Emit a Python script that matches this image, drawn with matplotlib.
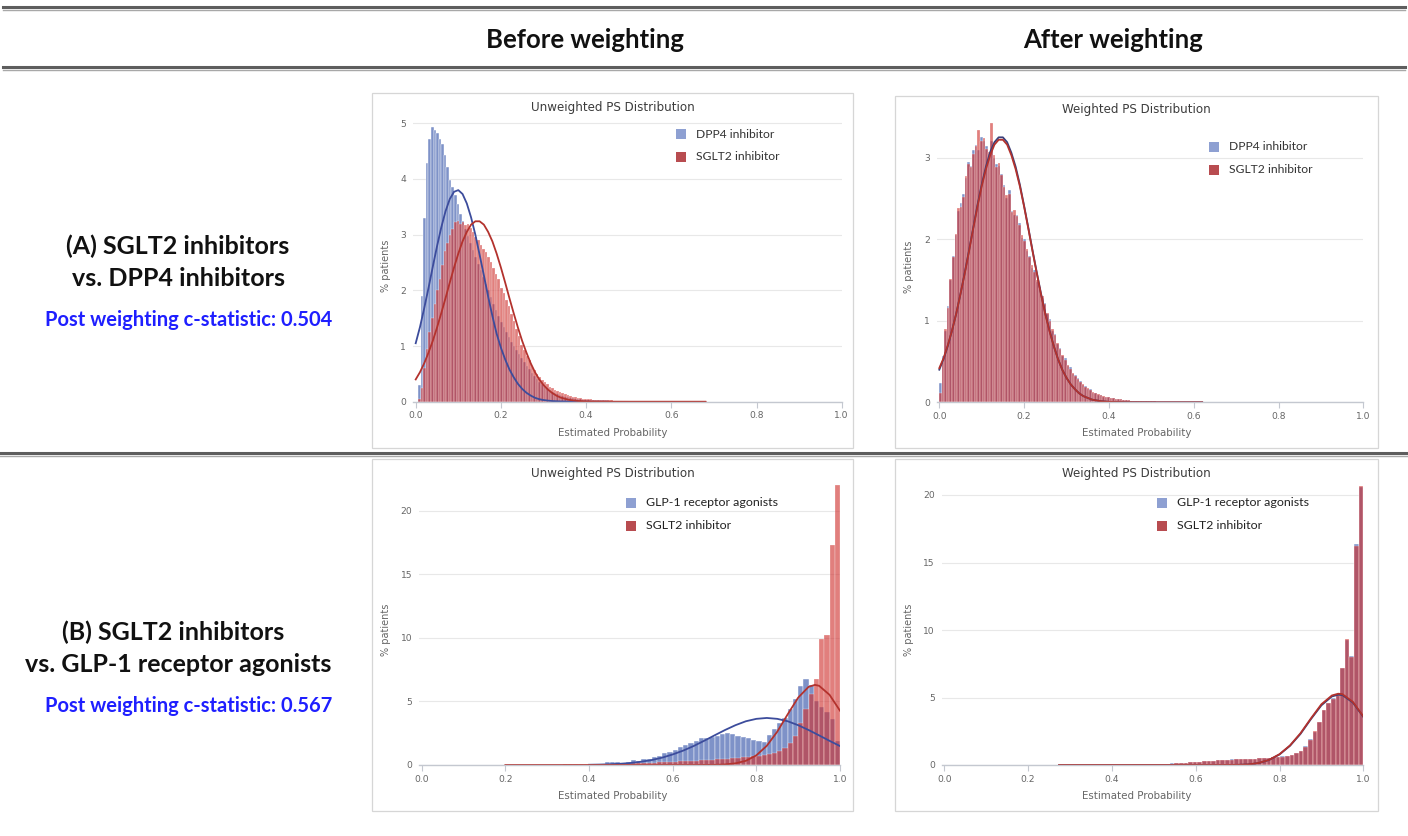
import numpy as np
import matplotlib
matplotlib.use('Agg')
import matplotlib.pyplot as plt
from matplotlib.patches import Rectangle
from matplotlib.lines import Line2D

# ---------------- data ----------------
# (A) SGLT2 vs DPP4, histogram bins of width 0.006 starting at 0.0
a_bin_width = 0.006
dpp4_before = [0.0, 0.3, 1.9, 3.3, 4.28, 4.72, 4.93, 4.88, 4.82, 4.72,
               4.62, 4.43, 4.22, 3.98, 3.86, 3.72, 3.55, 3.38, 3.25, 3.1,
               2.98, 2.85, 2.72, 2.6, 2.48, 2.36, 2.24, 2.12, 2.0, 1.88,
               1.76, 1.65, 1.54, 1.44, 1.35, 1.26, 1.17, 1.08, 1.0, 0.92,
               0.85, 0.78, 0.71, 0.64, 0.58, 0.52, 0.46, 0.41, 0.36, 0.32,
               0.28, 0.24, 0.21, 0.18, 0.16, 0.14, 0.12, 0.1, 0.09, 0.08,
               0.07, 0.06, 0.05, 0.045, 0.04, 0.035, 0.03, 0.025, 0.02, 0.02,
               0.015, 0.015, 0.01, 0.01, 0.01, 0.008]
sglt2_a_before = [0.0, 0.05, 0.25, 0.6, 0.95, 1.25, 1.5, 1.75, 2.0, 2.2,
                  2.45, 2.7, 2.85, 3.0, 3.1, 3.22, 3.25, 3.2, 3.22, 3.18,
                  3.2, 3.12, 3.05, 2.95, 2.9, 2.82, 2.75, 2.68, 2.6, 2.5,
                  2.4, 2.3, 2.2, 2.05, 1.95, 1.82, 1.72, 1.58, 1.45, 1.3,
                  1.18, 1.02, 0.92, 0.82, 0.74, 0.65, 0.57, 0.5, 0.44, 0.39,
                  0.35, 0.31, 0.27, 0.24, 0.21, 0.19, 0.17, 0.15, 0.13, 0.12,
                  0.1, 0.09, 0.08, 0.07, 0.06, 0.055, 0.05, 0.045, 0.04, 0.035,
                  0.03, 0.03, 0.028, 0.026, 0.025, 0.024, 0.022, 0.02, 0.02, 0.019,
                  0.018, 0.017, 0.016, 0.015, 0.015, 0.014, 0.013, 0.013, 0.012, 0.012,
                  0.011, 0.011, 0.01, 0.01, 0.01, 0.01, 0.009, 0.009, 0.009, 0.008,
                  0.008, 0.008, 0.008, 0.007, 0.007, 0.007, 0.007, 0.006, 0.006, 0.006,
                  0.006, 0.006, 0.005, 0.005]
dpp4_after = [0.24, 0.57, 0.88, 1.18, 1.5, 1.8, 2.05, 2.35, 2.45, 2.55,
              2.75, 2.95, 2.9, 3.1, 3.16, 3.1, 3.26, 3.2, 3.14, 3.05,
              3.2, 3.0, 2.92, 2.9, 2.8, 2.66, 2.5, 2.6, 2.35, 2.3,
              2.3, 2.2, 2.02, 2.0, 1.85, 1.8, 1.65, 1.62, 1.48, 1.42,
              1.28, 1.22, 1.08, 1.02, 0.88, 0.84, 0.72, 0.67, 0.57, 0.54,
              0.45, 0.43, 0.35, 0.34, 0.3, 0.26, 0.21, 0.2, 0.16, 0.16,
              0.12, 0.12, 0.09, 0.09, 0.07, 0.07, 0.06, 0.05, 0.05, 0.04,
              0.04, 0.035, 0.03, 0.028, 0.025, 0.022, 0.02, 0.018, 0.016, 0.015,
              0.014, 0.012, 0.011, 0.01, 0.01, 0.009, 0.008, 0.008, 0.007, 0.007,
              0.006, 0.006, 0.006, 0.005, 0.005, 0.005, 0.005, 0.004, 0.004, 0.004,
              0.004, 0.004, 0.004]
sglt2_a_after = [0.12, 0.49, 0.9, 1.16, 1.51, 1.78, 2.07, 2.38, 2.4, 2.52,
                 2.78, 2.92, 2.88, 3.05, 3.14, 3.34, 3.2, 3.24, 3.11, 3.07,
                 3.42, 3.03, 2.89, 2.93, 2.79, 2.64, 2.54, 2.56, 2.33, 2.36,
                 2.29, 2.17, 2.05, 1.98, 1.88, 1.78, 1.68, 1.6, 1.5, 1.4,
                 1.3, 1.2, 1.1, 1.0, 0.9, 0.82, 0.73, 0.65, 0.58, 0.52,
                 0.46, 0.41, 0.36, 0.32, 0.28, 0.25, 0.22, 0.19, 0.17, 0.15,
                 0.13, 0.11, 0.1, 0.09, 0.08, 0.07, 0.06, 0.055, 0.05, 0.045,
                 0.04, 0.035, 0.03, 0.028, 0.025, 0.022, 0.02, 0.018, 0.016, 0.015,
                 0.014, 0.012, 0.011, 0.01, 0.01, 0.009, 0.008, 0.008, 0.007, 0.007,
                 0.006, 0.006, 0.006, 0.005, 0.005, 0.005, 0.005, 0.004, 0.004, 0.004,
                 0.004, 0.004, 0.004]

# fitted normal curves, panel A
fit_a_x_before = [0.0, 0.01, 0.02, 0.03, 0.04, 0.05, 0.06, 0.07, 0.08, 0.09,
                  0.1, 0.11, 0.12, 0.13, 0.14, 0.15, 0.16, 0.17, 0.18, 0.19,
                  0.2, 0.21, 0.22, 0.23, 0.24, 0.25, 0.26, 0.27, 0.28, 0.29,
                  0.3, 0.31, 0.32, 0.33, 0.34, 0.36, 0.38, 0.4, 0.45, 0.5, 0.6, 0.68]
fit_a_x_after = [0.0, 0.01, 0.02, 0.03, 0.04, 0.05, 0.06, 0.07, 0.08, 0.09,
                 0.1, 0.11, 0.12, 0.13, 0.14, 0.15, 0.16, 0.17, 0.18, 0.19,
                 0.2, 0.21, 0.22, 0.23, 0.24, 0.25, 0.26, 0.27, 0.28, 0.29,
                 0.3, 0.31, 0.32, 0.33, 0.34, 0.36, 0.38, 0.4, 0.45, 0.5, 0.6, 0.62]
dpp4_before_fit = [1.05, 1.34, 1.68, 2.04, 2.42, 2.79, 3.13, 3.42, 3.64, 3.77,
                   3.8, 3.73, 3.56, 3.31, 3.0, 2.64, 2.27, 1.89, 1.54, 1.22,
                   0.97, 0.76, 0.58, 0.44, 0.32, 0.23, 0.16, 0.11, 0.07, 0.045,
                   0.03, 0.02, 0.012, 0.008, 0.005, 0.002, 0.001, 0.0, 0.0]
sglt2_a_before_fit = [0.4, 0.53, 0.69, 0.88, 1.09, 1.33, 1.59, 1.86, 2.14, 2.41,
                      2.66, 2.88, 3.05, 3.18, 3.24, 3.24, 3.18, 3.05, 2.88, 2.66,
                      2.41, 2.14, 1.86, 1.59, 1.33, 1.09, 0.88, 0.69, 0.53, 0.4,
                      0.3, 0.22, 0.16, 0.11, 0.075, 0.033, 0.014, 0.005, 0.001, 0.0, 0.0, 0.0]
dpp4_after_fit = [0.4, 0.53, 0.69, 0.88, 1.09, 1.33, 1.59, 1.86, 2.14, 2.42,
                  2.67, 2.89, 3.07, 3.19, 3.25, 3.25, 3.19, 3.06, 2.89, 2.67,
                  2.41, 2.14, 1.86, 1.59, 1.33, 1.09, 0.88, 0.69, 0.53, 0.4,
                  0.3, 0.22, 0.16, 0.11, 0.075, 0.033, 0.014, 0.005, 0.001, 0.0, 0.0, 0.0]
sglt2_a_after_fit = [0.42, 0.54, 0.7, 0.88, 1.09, 1.33, 1.58, 1.85, 2.13, 2.4,
                     2.65, 2.86, 3.03, 3.16, 3.22, 3.22, 3.16, 3.03, 2.86, 2.65,
                     2.4, 2.13, 1.85, 1.58, 1.32, 1.08, 0.87, 0.69, 0.53, 0.4,
                     0.3, 0.22, 0.16, 0.11, 0.075, 0.033, 0.014, 0.005, 0.001, 0.0, 0.0, 0.0]

# (B) SGLT2 vs GLP-1 RA
b_bin_width = 0.0125
glp1_before_start = 0.4
glp1_before = [0.04, 0.06, 0.1, 0.2, 0.25, 0.22, 0.15, 0.2, 0.4, 0.35,
               0.45, 0.5, 0.6, 0.7, 0.95, 1.05, 1.2, 1.4, 1.55, 1.75,
               1.9, 2.1, 2.15, 2.2, 2.3, 2.4, 2.5, 2.45, 2.25, 2.2,
               2.1, 2.0, 1.9, 1.8, 2.35, 2.85, 3.3, 3.7, 4.4, 5.2,
               6.2, 6.8, 6.3, 5.0, 4.6, 4.2, 3.6, 1.9]
sglt2_b_before_start = 0.2
sglt2_b_before = [0.02, 0.02, 0.02, 0.02, 0.02, 0.02, 0.03, 0.03, 0.03, 0.03,
                  0.03, 0.04, 0.04, 0.04, 0.05, 0.05, 0.06, 0.06, 0.07, 0.08,
                  0.09, 0.1, 0.11, 0.12, 0.13, 0.14, 0.15, 0.17, 0.19, 0.21,
                  0.23, 0.25, 0.27, 0.29, 0.31, 0.33, 0.35, 0.37, 0.39, 0.41,
                  0.44, 0.47, 0.5, 0.53, 0.56, 0.6, 0.64, 0.68, 0.72, 0.78,
                  0.85, 0.95, 1.1, 1.35, 1.7, 2.3, 3.3, 4.4, 5.6, 6.8,
                  9.9, 10.2, 17.3, 22.0]
b_after_bin_width = 0.011
b_after_start = 0.274
glp1_after = [0.01, 0.01, 0.01, 0.01, 0.01, 0.01, 0.012, 0.015, 0.015, 0.02,
              0.02, 0.022, 0.025, 0.03, 0.032, 0.035, 0.04, 0.045, 0.05, 0.06,
              0.07, 0.08, 0.09, 0.1, 0.12, 0.13, 0.15, 0.17, 0.2, 0.22,
              0.25, 0.27, 0.3, 0.33, 0.34, 0.36, 0.38, 0.41, 0.42, 0.44,
              0.45, 0.47, 0.48, 0.5, 0.53, 0.55, 0.58, 0.6, 0.63, 0.68,
              0.75, 0.88, 1.02, 1.4, 1.9, 2.45, 3.15, 4.1, 4.62, 4.95,
              5.1, 7.15, 9.25, 8.05, 16.35, 20.6]
sglt2_b_after = [0.01, 0.01, 0.01, 0.01, 0.01, 0.01, 0.01, 0.015, 0.015, 0.02,
                 0.02, 0.02, 0.025, 0.03, 0.03, 0.035, 0.04, 0.045, 0.05, 0.06,
                 0.07, 0.08, 0.09, 0.1, 0.11, 0.13, 0.15, 0.18, 0.2, 0.22,
                 0.25, 0.28, 0.3, 0.32, 0.34, 0.36, 0.38, 0.4, 0.42, 0.43,
                 0.45, 0.46, 0.48, 0.5, 0.52, 0.55, 0.57, 0.6, 0.62, 0.67,
                 0.74, 0.86, 1.04, 1.36, 1.85, 2.5, 3.2, 4.07, 4.6, 4.9,
                 5.2, 7.2, 9.3, 8.0, 16.2, 20.7]

# fitted normal curves, panel B
glp1_fit_x = [0.4, 0.425, 0.45, 0.475, 0.5, 0.525, 0.55, 0.575, 0.6, 0.625, 0.65,
              0.675, 0.7, 0.725, 0.75, 0.775, 0.8, 0.825, 0.85, 0.875, 0.9,
              0.925, 0.95, 0.975, 1.0]
glp1_before_fit = [0.018, 0.033, 0.058, 0.099, 0.16, 0.26, 0.39, 0.58, 0.83, 1.13, 1.49,
                   1.9, 2.33, 2.75, 3.13, 3.44, 3.63, 3.7, 3.63, 3.44, 3.13,
                   2.75, 2.33, 1.9, 1.49]
sglt2_b_fit_x = [0.2, 0.3, 0.4, 0.5, 0.6, 0.65, 0.7, 0.725, 0.75, 0.775, 0.8,
                 0.825, 0.85, 0.875, 0.9, 0.925, 0.94, 0.95, 0.975, 1.0]
sglt2_b_before_fit = [0.0, 0.0, 0.0, 0.0, 0.0, 0.0, 0.012, 0.043, 0.13, 0.33, 0.76,
                      1.51, 2.62, 3.99, 5.3, 6.15, 6.3, 6.23, 5.52, 4.27]
b_after_fit_x = [0.274, 0.4, 0.5, 0.6, 0.65, 0.7, 0.725, 0.75, 0.775, 0.8,
                 0.825, 0.85, 0.875, 0.9, 0.925, 0.94, 0.95, 0.975, 1.0]
glp1_after_fit = [0.0, 0.0, 0.0, 0.0, 0.0, 0.011, 0.04, 0.14, 0.37, 0.78,
                  1.42, 2.3, 3.4, 4.42, 5.08, 5.2, 5.18, 4.63, 3.57]
sglt2_b_after_fit = [0.0, 0.0, 0.0, 0.0, 0.0, 0.011, 0.04, 0.15, 0.38, 0.8,
                     1.45, 2.35, 3.45, 4.5, 5.15, 5.28, 5.25, 4.68, 3.6]

# ---------------- figure ----------------
W, H = 1408, 836
BLUE_BAR = '#7e92c8'
RED_BAR = '#cf302e'
BLUE_LINE = '#3c4c9c'
RED_LINE = '#b3322d'
GRAY_TXT = '#666666'

plt.rcParams['font.family'] = ['DejaVu Sans']
fig = plt.figure(figsize=(W / 100, H / 100), dpi=100)


def fx(x):
    return x / W


def fy(y):
    return 1 - y / H


def hline(y, x0=3, x1=1405):
    fig.add_artist(Line2D([fx(x0), fx(x1)], [fy(y), fy(y)], color='#5e5e5e', lw=2.2))
    fig.add_artist(Line2D([fx(x0), fx(x1)], [fy(y + 2.5), fy(y + 2.5)], color='#a8a8a8', lw=1.0))


def make_panel(frame, x0, x1, y0, yunit, ytop, yticks, title):
    # light frame around the chart image
    l, t, r, b = frame
    fig.add_artist(Rectangle((fx(l), fy(b)), (r - l) / W, (b - t) / H,
                             transform=fig.transFigure, fill=False,
                             edgecolor='#d6d6d6', lw=0.9))
    xmin = -0.006
    left = x0 + xmin * (x1 - x0)
    top = y0 - ytop * yunit
    ax = fig.add_axes([fx(left), fy(y0), (x1 - left) / W, (y0 - top) / H])
    ax.set_xlim(xmin, 1.0)
    ax.set_ylim(0, ytop)
    for s in ['top', 'right', 'left']:
        ax.spines[s].set_visible(False)
    ax.spines['bottom'].set_color('#c4c8d0')
    ax.spines['bottom'].set_linewidth(1.0)
    ax.set_xticks([0, 0.2, 0.4, 0.6, 0.8, 1.0])
    ax.set_xticklabels(['0.0', '0.2', '0.4', '0.6', '0.8', '1.0'])
    ax.set_yticks(yticks)
    ax.set_yticklabels([str(v) for v in yticks])
    ax.tick_params(axis='x', length=4, color='#c4c8d0', labelsize=6.6,
                   labelcolor=GRAY_TXT, pad=3)
    ax.tick_params(axis='y', length=0, labelsize=6.6, labelcolor=GRAY_TXT, pad=5)
    ax.yaxis.grid(True, color='#e8e8e8', lw=0.8)
    ax.set_axisbelow(True)
    ax.patch.set_alpha(0)
    cx = (l + r) / 2
    fig.text(fx(cx), fy(t + 14), title, ha='center', va='center',
             fontsize=8.6, color='#3c3c3c')
    fig.text(fx(cx), fy(b - 15), 'Estimated Probability', ha='center', va='center',
             fontsize=7.4, color=GRAY_TXT)
    fig.text(fx(l + 14), fy((t + b) / 2 - 5), '% patients', ha='center', va='center',
             rotation=90, fontsize=7.0, color=GRAY_TXT)
    return ax


def bars(ax, start, width, heights, color, alpha):
    lefts = start + width * np.arange(len(heights))
    ax.bar(lefts, heights, width=width, align='edge', color=color, alpha=alpha,
           edgecolor=(1, 1, 1, 0.3), linewidth=0.3)


def legend(x, y, labels, size, color):
    for i, (lab, c) in enumerate(zip(labels, ['#8ea0d2', '#b84c50'])):
        yy = y + i * 22.5
        fig.add_artist(Rectangle((fx(x - 5), fy(yy + 5)), 10 / W, 10 / H,
                                 transform=fig.transFigure, color=c, lw=0))
        fig.text(fx(x + 15), fy(yy), lab, ha='left', va='center',
                 fontsize=size, color=color, family='Lato')


# header rules and column titles
hline(7)
hline(67)
hline(453, 0, 1408)
fig.text(fx(585), fy(40), 'Before weighting', ha='center', va='center',
         fontsize=18.5, fontweight='bold', family='Lato', color='#111111')
fig.text(fx(1113), fy(40), 'After weighting', ha='center', va='center',
         fontsize=18.5, fontweight='bold', family='Lato', color='#111111')

# row labels
label_kw = dict(ha='center', va='center', fontsize=18, fontweight='bold',
                family='Lato', color='#111111')
stat_kw = dict(ha='center', va='center', fontsize=14.5, fontweight='bold',
               family='Lato', color='#1f1fff')
fig.text(fx(178), fy(246), '(A) SGLT2 inhibitors', **label_kw)
fig.text(fx(179), fy(278), 'vs. DPP4 inhibitors', **label_kw)
fig.text(fx(189), fy(320), 'Post weighting c-statistic: 0.504', **stat_kw)
fig.text(fx(173), fy(632), '(B) SGLT2 inhibitors', **label_kw)
fig.text(fx(178), fy(664), 'vs. GLP-1 receptor agonists', **label_kw)
fig.text(fx(189), fy(706), 'Post weighting c-statistic: 0.567', **stat_kw)

# panel A, before weighting
ax = make_panel((372, 93, 853, 448), 415.7, 841.7, 401.7, 55.68, 5.05,
                [0, 1, 2, 3, 4, 5], 'Unweighted PS Distribution')
bars(ax, 0.0, a_bin_width, dpp4_before, BLUE_BAR, 1.0)
bars(ax, 0.0, a_bin_width, sglt2_a_before, RED_BAR, 0.62)
ax.plot(fit_a_x_before[:len(dpp4_before_fit)], dpp4_before_fit, color=BLUE_LINE, lw=1.3)
ax.plot(fit_a_x_before, sglt2_a_before_fit, color=RED_LINE, lw=1.3)
legend(681, 134, ['DPP4 inhibitor', 'SGLT2 inhibitor'], 8.7, '#333333')

# panel A, after weighting
ax = make_panel((895, 96, 1378, 448), 939.3, 1363.3, 402.3, 81.53, 3.45,
                [0, 1, 2, 3], 'Weighted PS Distribution')
bars(ax, 0.0, a_bin_width, dpp4_after, BLUE_BAR, 1.0)
bars(ax, 0.0, a_bin_width, sglt2_a_after, RED_BAR, 0.62)
ax.plot(fit_a_x_after, dpp4_after_fit, color='#3a3f7a', lw=1.3)
ax.plot(fit_a_x_after, sglt2_a_after_fit, color=RED_LINE, lw=1.3)
legend(1214, 147, ['DPP4 inhibitor', 'SGLT2 inhibitor'], 8.7, '#333333')

# panel B, before weighting
ax = make_panel((372, 459, 853, 811), 421.7, 840.0, 765.0, 12.715, 22.2,
                [0, 5, 10, 15, 20], 'Unweighted PS Distribution')
bars(ax, glp1_before_start, b_bin_width, glp1_before, BLUE_BAR, 1.0)
bars(ax, sglt2_b_before_start, b_bin_width, sglt2_b_before, RED_BAR, 0.62)
ax.plot(glp1_fit_x, glp1_before_fit, color=BLUE_LINE, lw=1.3)
ax.plot(sglt2_b_fit_x, sglt2_b_before_fit, color=RED_LINE, lw=1.3)
legend(631, 503, ['GLP-1 receptor agonists', 'SGLT2 inhibitor'], 8.9, '#222222')

# panel B, after weighting
ax = make_panel((895, 459, 1378, 811), 944.3, 1363.3, 765.0, 13.5, 20.8,
                [0, 5, 10, 15, 20], 'Weighted PS Distribution')
bars(ax, b_after_start, b_after_bin_width, glp1_after, BLUE_BAR, 1.0)
bars(ax, b_after_start, b_after_bin_width, sglt2_b_after, RED_BAR, 0.62)
ax.plot(b_after_fit_x, glp1_after_fit, color='#3a3f7a', lw=1.3)
ax.plot(b_after_fit_x, sglt2_b_after_fit, color=RED_LINE, lw=1.3)
legend(1162, 503, ['GLP-1 receptor agonists', 'SGLT2 inhibitor'], 8.9, '#222222')

fig.savefig('out.png', dpi=100)
